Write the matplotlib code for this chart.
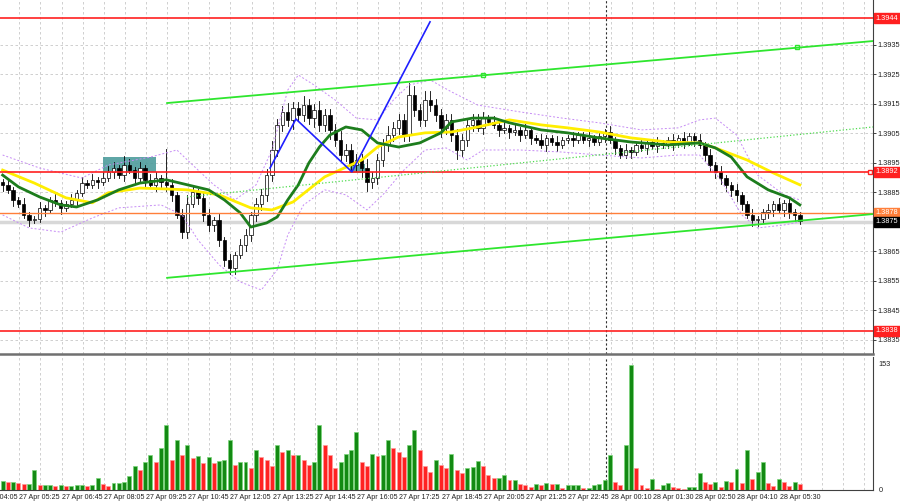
import matplotlib
matplotlib.use("Agg")
import matplotlib.pyplot as plt
import matplotlib.transforms as mtransforms
from matplotlib.patches import Rectangle
import numpy as np

# 10-minute candles, 27 Apr 04:05 -> 28 Apr 05:35
closes = [1.38875, 1.38858, 1.38824, 1.38810, 1.38773, 1.38756, 1.38760, 1.38797, 1.38790, 1.38824,
          1.38814, 1.38797, 1.38810, 1.38824, 1.38848, 1.38881, 1.38875, 1.38891, 1.38885, 1.38898,
          1.38919, 1.38932, 1.38908, 1.38942, 1.38925, 1.38898, 1.38932, 1.38891, 1.38875, 1.38898,
          1.38885, 1.38875, 1.38841, 1.38773, 1.38716, 1.38810, 1.38851, 1.38831, 1.38773, 1.38740,
          1.38756, 1.38688, 1.38620, 1.38594, 1.38638, 1.38671, 1.38705, 1.38773, 1.38810, 1.38841,
          1.38908, 1.38993, 1.39078, 1.39122, 1.39095, 1.39135, 1.39112, 1.39145, 1.39101, 1.39128,
          1.39078, 1.39112, 1.39061, 1.39027, 1.38976, 1.38993, 1.38942, 1.38959, 1.38932, 1.38885,
          1.38898, 1.38959, 1.39010, 1.39044, 1.39068, 1.39095, 1.39044, 1.39179, 1.39128, 1.39095,
          1.39162, 1.39145, 1.39112, 1.39068, 1.39095, 1.39044, 1.38993, 1.39027, 1.39078, 1.39095,
          1.39068, 1.39101, 1.39088, 1.39078, 1.39061, 1.39068, 1.39054, 1.39061, 1.39044, 1.39061,
          1.39034, 1.39027, 1.39010, 1.39034, 1.39020, 1.39010, 1.39027, 1.39034, 1.39027, 1.39044,
          1.39027, 1.39034, 1.39020, 1.39041, 1.39054, 1.39027, 1.38999, 1.38976, 1.38993, 1.38986,
          1.39010, 1.38999, 1.39020, 1.39007, 1.39017, 1.39010, 1.39027, 1.39014, 1.39034, 1.39020,
          1.39041, 1.39027, 1.39010, 1.38976, 1.38942, 1.38919, 1.38898, 1.38875, 1.38858, 1.38841,
          1.38810, 1.38773, 1.38756, 1.38760, 1.38783, 1.38790, 1.38810, 1.38790, 1.38814, 1.38783,
          1.38773, 1.38753]
first_open = 1.38885
# wick lengths in pips above / below the body
wick_hi = [1, 2, 1, 1, 2, 1, 1, 2, 1, 1, 2, 1, 1, 2, 1, 2, 1, 2, 1, 2,
           2, 2, 1, 3, 2, 1, 2, 1, 2, 2, 1, 11, 2, 1, 2, 3, 2, 1, 2, 2,
           1, 2, 1, 2, 1, 2, 2, 1, 2, 2, 2, 3, 2, 2, 3, 2, 2, 3, 2, 2,
           3, 2, 2, 2, 3, 2, 2, 2, 2, 3, 2, 2, 2, 3, 2, 2, 2, 4, 3, 2,
           3, 3, 2, 2, 2, 2, 2, 2, 2, 2, 2, 2, 1, 2, 1, 2, 1, 2, 1, 2,
           1, 1, 2, 1, 1, 2, 1, 1, 2, 1, 1, 2, 1, 1, 1, 2, 1, 1, 2, 1,
           1, 2, 1, 1, 2, 1, 1, 2, 1, 2, 1, 1, 2, 1, 2, 1, 2, 1, 1, 2,
           1, 1, 2, 1, 1, 2, 1, 2, 1, 2, 1, 1]
wick_lo = [2, 1, 2, 1, 1, 2, 1, 1, 2, 1, 1, 2, 1, 1, 2, 1, 1, 1, 2, 1,
           1, 2, 1, 2, 1, 2, 1, 2, 1, 2, 2, 2, 2, 1, 2, 2, 1, 2, 2, 2,
           2, 2, 2, 2, 2, 1, 2, 2, 2, 2, 2, 2, 2, 2, 2, 3, 2, 2, 2, 3,
           2, 2, 3, 2, 2, 2, 2, 2, 3, 3, 2, 2, 2, 2, 2, 2, 2, 2, 2, 2,
           2, 2, 2, 3, 2, 2, 3, 2, 2, 2, 1, 2, 1, 1, 2, 1, 2, 1, 2, 1,
           2, 1, 1, 2, 1, 2, 1, 1, 2, 1, 1, 2, 1, 1, 2, 1, 2, 1, 1, 2,
           1, 1, 2, 1, 2, 1, 1, 2, 1, 2, 1, 2, 1, 2, 2, 2, 2, 2, 2, 2,
           2, 1, 2, 2, 1, 2, 2, 1, 2, 2, 2, 1]
volumes = [11, 10, 10, 8, 7, 7, 24, 6, 6, 6, 5, 6, 5, 5, 6, 6, 5, 6, 14, 7,
           5, 8, 8, 10, 17, 29, 24, 34, 42, 34, 51, 79, 36, 61, 42, 55, 39, 41, 33, 40,
           33, 35, 36, 61, 30, 34, 34, 27, 49, 40, 36, 29, 55, 46, 49, 42, 42, 36, 30, 34,
           79, 55, 42, 27, 34, 44, 49, 70, 34, 29, 44, 41, 42, 61, 51, 46, 40, 55, 73, 49,
           29, 22, 36, 30, 27, 44, 24, 21, 27, 28, 35, 29, 18, 15, 15, 18, 12, 12, 7, 6,
           4, 7, 6, 8, 7, 7, 2, 6, 6, 6, 2, 2, 6, 7, 12, 42, 10, 6, 55, 152,
           27, 6, 2, 13, 1, 6, 8, 4, 2, 1, 4, 4, 21, 10, 7, 10, 4, 11, 10, 25,
           8, 48, 13, 22, 34, 8, 5, 13, 10, 5, 10, 7]

# indicator lines (candle index, price)
green_ma_idx = [0, 3, 7, 11, 14, 18, 22, 26, 31, 35, 39, 42, 45, 47, 50, 52, 54, 56, 58, 60,
                62, 65, 68, 71, 75, 79, 83, 85, 89, 93, 96, 102, 107, 113, 119, 126, 132, 135,
                138, 141, 145, 149, 151]
green_ma = [1.38908, 1.38868, 1.38834, 1.38807, 1.38800, 1.38824, 1.38858, 1.38881, 1.38892,
            1.38875, 1.38858, 1.38824, 1.38780, 1.38732, 1.38746, 1.38766, 1.38824, 1.38875,
            1.38949, 1.39003, 1.39044, 1.39071, 1.39061, 1.39017, 1.39003, 1.39017, 1.39051,
            1.39088, 1.39101, 1.39101, 1.39085, 1.39061, 1.39051, 1.39034, 1.39020, 1.39010,
            1.39017, 1.39000, 1.38969, 1.38902, 1.38858, 1.38831, 1.38807]
yellow_ma_idx = [0, 6, 12, 17, 20, 26, 31, 35, 41, 47, 51, 55, 61, 68, 71, 75, 80, 85, 90, 96,
                 102, 107, 113, 119, 126, 132, 135, 141, 146, 151]
yellow_ma = [1.38925, 1.38881, 1.38831, 1.38814, 1.38848, 1.38864, 1.38861, 1.38858, 1.38841,
             1.38797, 1.38790, 1.38817, 1.38902, 1.38959, 1.39003, 1.39037, 1.39051, 1.39054,
             1.39071, 1.39095, 1.39078, 1.39068, 1.39054, 1.39034, 1.39020, 1.39017, 1.39000,
             1.38959, 1.38915, 1.38875]
bb_up_idx = [0, 7, 15, 20, 28, 33, 36, 40, 44, 48, 51, 54, 56, 59, 63, 67, 71, 74, 77, 81,
             85, 90, 98, 106, 113, 121, 128, 132, 135, 139, 143, 148, 151]
bb_up = [1.38976, 1.38932, 1.38898, 1.38942, 1.38969, 1.38993, 1.38942, 1.38875, 1.38824,
         1.38875, 1.38993, 1.39196, 1.39247, 1.39213, 1.39162, 1.39101, 1.39095, 1.39162,
         1.39213, 1.39230, 1.39190, 1.39145, 1.39122, 1.39101, 1.39085, 1.39061, 1.39068,
         1.39095, 1.39101, 1.39044, 1.38908, 1.38841, 1.38824]
bb_lo_idx = [0, 5, 11, 17, 22, 30, 34, 37, 41, 45, 49, 52, 54, 57, 61, 65, 69, 72, 76, 80,
             84, 88, 91, 98, 106, 113, 121, 128, 132, 136, 140, 143, 148, 151]
bb_lo = [1.38773, 1.38729, 1.38715, 1.38763, 1.38797, 1.38807, 1.38773, 1.38688, 1.38604,
         1.38546, 1.38519, 1.38587, 1.38705, 1.38807, 1.38858, 1.38841, 1.38790, 1.38841,
         1.38925, 1.38993, 1.39000, 1.38959, 1.38993, 1.38993, 1.38986, 1.38976, 1.38966,
         1.38976, 1.38976, 1.38892, 1.38773, 1.38729, 1.38739, 1.38749]

# drawn objects (x in 5-minute bar units)
red_levels = [1.3944, 1.3892, 1.3838]
orange_level = 1.3878
last_price = 1.3875
channel_x = [63.3, 330.7]
channel_up = [1.39152, 1.39362]
channel_lo = [1.38560, 1.38776]
channel_marks_x = [183, 302]
channel_marks = [1.39247, 1.39342]
mid_x = [70.8, 330.7]
mid_line = [1.38834, 1.39071]
wave_x = [102.3, 112.1, 133.3, 162.9]
wave_y = [1.38932, 1.39098, 1.38919, 1.39427]
zones = [(39.0, 59.0, 1.38919, 1.38969), (132.6, 138.3, 1.38915, 1.38946)]
day_sep = 229.5

time_labels = ['27 Apr 04:05', '27 Apr 05:25', '27 Apr 06:45', '27 Apr 08:05', '27 Apr 09:25',
               '27 Apr 10:45', '27 Apr 12:05', '27 Apr 13:25', '27 Apr 14:45', '27 Apr 16:05',
               '27 Apr 17:25', '27 Apr 18:45', '27 Apr 20:05', '27 Apr 21:25', '27 Apr 22:45',
               '28 Apr 00:10', '28 Apr 01:30', '28 Apr 02:50', '28 Apr 04:10', '28 Apr 05:30']
price_ticks = [1.3835, 1.3845, 1.3855, 1.3865, 1.3875, 1.3885, 1.3895, 1.3905, 1.3915,
               1.3925, 1.3935]

plt.rcParams['font.family'] = ['Liberation Sans', 'DejaVu Sans']
FS = 5.3      # right axis
FS_T = 5.1    # time axis
fig = plt.figure(figsize=(9, 5.04), dpi=100)
ax = fig.add_axes([0, 0.2976, 0.97, 0.7024])
axv = fig.add_axes([0, 0.0278, 0.97, 0.2639])

XMAX = 330.7
for a in (ax, axv):
    a.set_xlim(0, XMAX)
    a.set_xticks([])
    for x in np.arange(-0.7, XMAX, 8):
        a.axvline(x, color='#c8c8c8', lw=0.6, dashes=(3, 3), zorder=0.5)
    a.axvline(day_sep, color='#303030', lw=0.8, dashes=(2, 2), zorder=0.6)
    a.spines['left'].set_visible(False)
    a.spines['right'].set_color('#404040')

ax.set_ylim(1.38302, 1.39501)
for p in price_ticks:
    ax.axhline(p, color='#c8c8c8', lw=0.6, dashes=(3, 3), zorder=0.5)

# candles
n = len(closes)
xs = 2 * np.arange(n) + 1
opens = [first_open] + closes[:-1]
for i in range(n):
    o, c = opens[i], closes[i]
    hi = max(o, c) + wick_hi[i] * 0.0001
    lo = min(o, c) - wick_lo[i] * 0.0001
    ax.plot([xs[i], xs[i]], [lo, hi], color='black', lw=0.6, zorder=2)
    up = c >= o
    ax.add_patch(Rectangle((xs[i] - 0.65, min(o, c)), 1.3, max(abs(c - o), 0.00002),
                           facecolor='white' if up else 'black', edgecolor='black',
                           lw=0.5, zorder=2.1))

# zones and levels
for x0, x1, p0, p1 in zones:
    ax.add_patch(Rectangle((x0, p0), x1 - x0, p1 - p0, facecolor='#4e9c9c',
                           edgecolor='none', alpha=0.9, zorder=1))
ax.axhline(last_price, color='#d8d8d8', lw=2.5, zorder=0.8)
ax.axhline(orange_level, color='#ff7f3a', lw=1.0, zorder=3.5)
for lv in red_levels:
    ax.axhline(lv, color='#ff2020', lw=1.2, zorder=3.5)
ax.plot([XMAX - 1], [red_levels[1]], marker='s', ms=3, mfc='white', mec='#ff2020',
        zorder=4, clip_on=False)

# indicators
ax.plot(2 * np.array(bb_up_idx) + 1, bb_up, color='#c68cf5', lw=0.7, dashes=(2, 2), zorder=2.5)
ax.plot(2 * np.array(bb_lo_idx) + 1, bb_lo, color='#c68cf5', lw=0.7, dashes=(2, 2), zorder=2.5)
ax.plot(2 * np.array(yellow_ma_idx) + 1, yellow_ma, color='#ffee00', lw=2.0, zorder=3)
ax.plot(2 * np.array(green_ma_idx) + 1, green_ma, color='#1d7d1d', lw=2.0, zorder=3.1)

# channel and wave lines
ax.plot(channel_x, channel_up, color='#2ee62e', lw=1.3, zorder=3.6)
ax.plot(channel_x, channel_lo, color='#2ee62e', lw=1.3, zorder=3.6)
ax.plot(channel_marks_x, channel_marks, 's', ms=3, mfc='none', mec='#2ee62e', zorder=3.7)
ax.plot(mid_x, mid_line, color='#4fdc4f', lw=0.9, linestyle=':', zorder=3.6)
ax.plot(wave_x, wave_y, color='#1f1fff', lw=1.2, zorder=3.7)

# right price axis
ax.yaxis.tick_right()
ax.set_yticks(price_ticks)
ax.set_yticklabels(['' if p == last_price else f'{p:.4f}' for p in price_ticks])
ax.tick_params(axis='y', direction='out', length=2, width=0.6, labelsize=FS, pad=1,
               colors='#202020')
ax.spines['top'].set_visible(False)
ax.spines['bottom'].set_color('#707070')
ax.spines['bottom'].set_linewidth(1.8)

tr = mtransforms.blended_transform_factory(ax.transAxes, ax.transData)
tags = [(red_levels[0], '#ff2020'), (red_levels[1], '#ff2020'), (red_levels[2], '#ff2020'),
        (orange_level, '#ff7f3a'), (last_price, 'black')]
for lv, col in tags:
    ax.text(1.003, lv, f'{lv:.4f}', transform=tr, ha='left', va='center', fontsize=FS,
            color='white', clip_on=False, zorder=6,
            bbox=dict(boxstyle='square,pad=0.2', fc=col, ec=col))

# volumes
vcols = ['#138a13' if i == 0 or volumes[i] >= volumes[i - 1] else '#ff2222' for i in range(n)]
ecols = ['#7ad67a' if c == '#138a13' else '#ff9a9a' for c in vcols]
axv.bar(xs, volumes, width=1.5, color=vcols, edgecolor=ecols, linewidth=0.5, zorder=2)
axv.set_ylim(0, 161.5)
axv.yaxis.tick_right()
axv.set_yticks([0, 153])
axv.set_yticklabels(['0', '153'])
axv.tick_params(axis='y', length=0, labelsize=FS, pad=4, colors='#202020')
axv.spines['top'].set_visible(False)
axv.spines['bottom'].set_color('#404040')

trv = mtransforms.blended_transform_factory(axv.transData, axv.transAxes)
for k, lab in enumerate(time_labels):
    axv.text(-8.7 + 16 * k, -0.03, lab, transform=trv, ha='left', va='top', fontsize=FS_T,
             color='#202020', clip_on=False)

fig.savefig('out.png', dpi=100)
